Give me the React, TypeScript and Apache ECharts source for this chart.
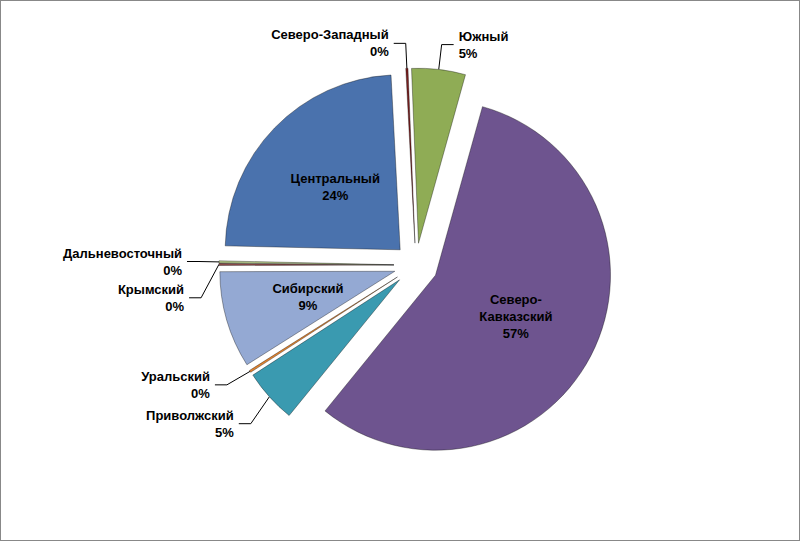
import { useEffect, useRef } from 'react'
import * as echarts from 'echarts'

const regions = [
  'Северо-Западный', 'Южный', 'Северо-Кавказский', 'Приволжский', 'Уральский',
  'Сибирский', 'Крымский', 'Дальневосточный', 'Центральный'
]
const shares = [0.2, 5, 57, 5, 0.2, 9, 0.2, 0.2, 24]
const colors = ['#7a2020', '#8fac55', '#6e548f', '#3a9ab0', '#e0822f', '#94a9d3', '#8c4a4a', '#b5c98b', '#4a72ad']
const insideLabels = [false, false, true, false, false, true, false, false, true]

export default function App() {
  const ref = useRef<HTMLDivElement>(null)

  useEffect(() => {
    if (!ref.current) return
    const chart = echarts.init(ref.current, null, { renderer: 'svg' })
    chart.setOption({
      animation: false,
      backgroundColor: '#fff',
      series: [{
        type: 'pie',
        center: ['52%', '49%'],
        radius: 175,
        startAngle: 93,
        clockwise: true,
        selectedMode: 'multiple',
        selectedOffset: 22,
        avoidLabelOverlap: true,
        itemStyle: { borderColor: 'rgba(0,0,0,0.35)', borderWidth: 1 },
        labelLine: { lineStyle: { color: '#000', width: 1 }, length: 25, length2: 12 },
        label: {
          color: '#000',
          fontFamily: 'Liberation Sans',
          fontSize: 13,
          fontWeight: 'bold',
          lineHeight: 17,
          formatter: (p: any) => {
            const name = p.name === 'Северо-Кавказский' ? 'Северо-\nКавказский' : p.name
            return `${name}\n${Math.round(p.value)}%`
          }
        },
        data: regions.map((name, i) => ({
          name,
          value: shares[i],
          selected: true,
          itemStyle: { color: colors[i] },
          label: insideLabels[i]
            ? { position: 'inside', align: 'center' }
            : { position: 'outside' },
          labelLine: { show: !insideLabels[i] }
        }))
      }]
    })
    return () => chart.dispose()
  }, [])

  return (
    <div style={{ position: 'absolute', left: 0, top: 0, width: 798, height: 539, border: '1px solid #888' }}>
      <div ref={ref} style={{ width: 798, height: 539 }} />
    </div>
  )
}
